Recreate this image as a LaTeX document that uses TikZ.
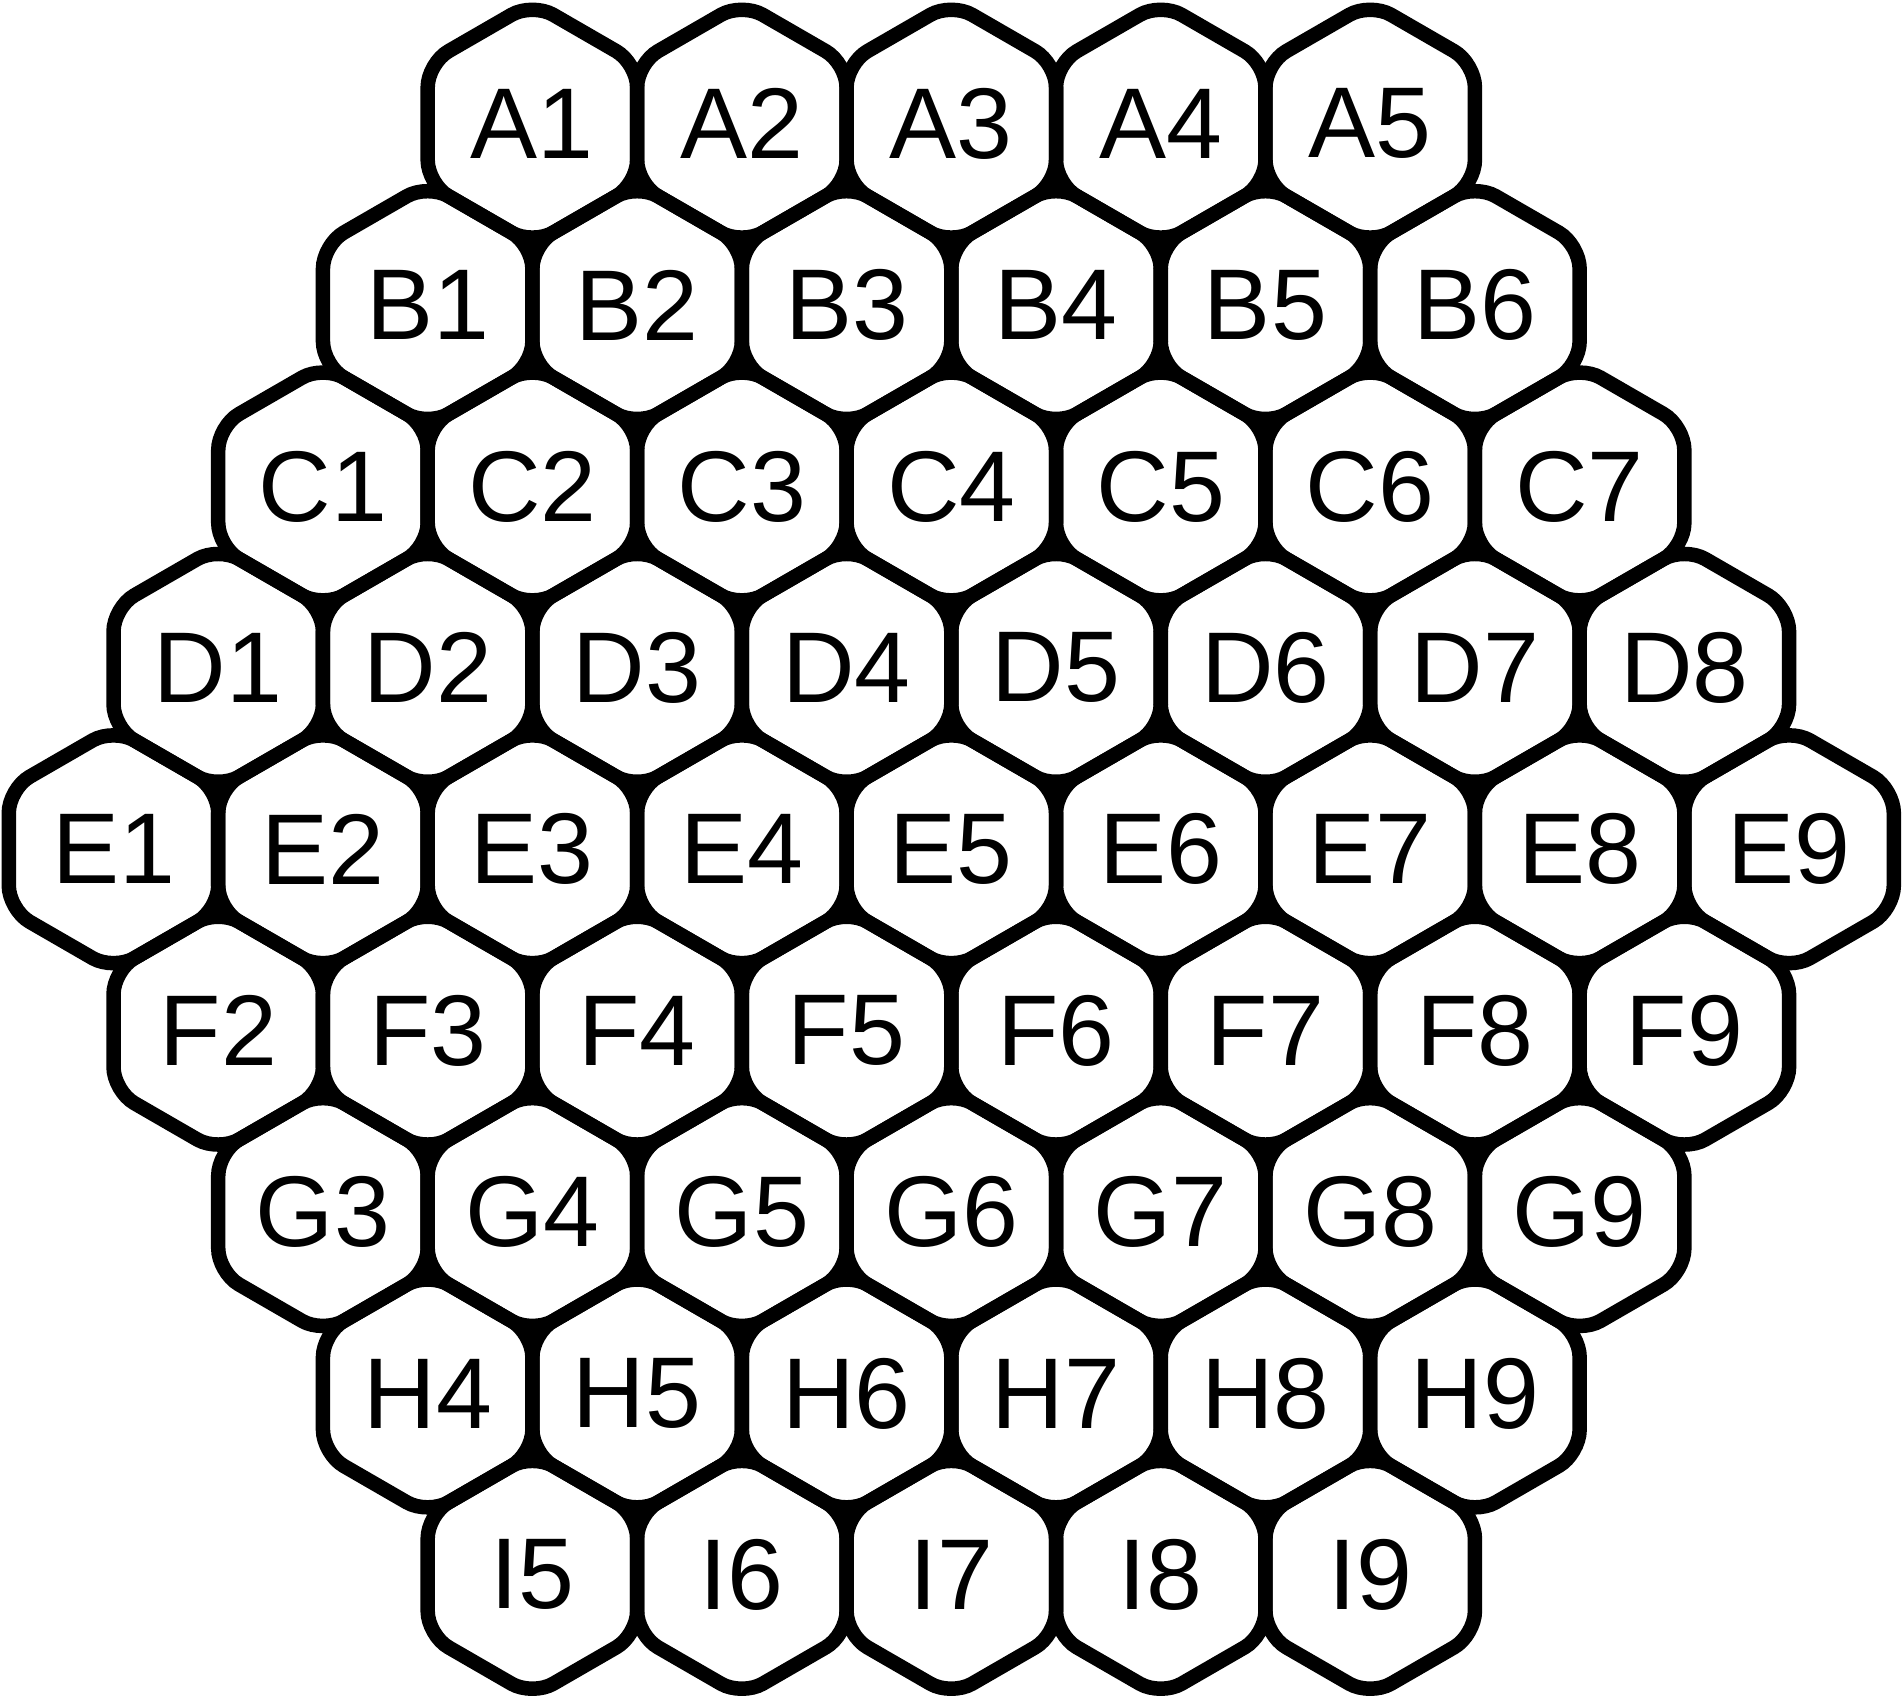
\documentclass[tikz,border=0pt]{standalone}
\usepackage{fontspec}
\setmainfont{Liberation Sans}
\usetikzlibrary{shapes.geometric}

\begin{document}
\begin{tikzpicture}[x=2.094cm, y=-1.8135cm]

\tikzset{cell/.style = {shape=regular polygon, regular polygon sides=6, shape border rotate=30, draw, line width=0.145cm, rounded corners=0.24cm, minimum size=2.418cm, inner sep=0pt, outer sep=0pt, font=\fontsize{28.6}{34}\selectfont}}
\useasboundingbox (-0.542,-0.682) rectangle (8.544,8.670);
% rows: letter/row/first/last/offset
\foreach \r/\k/\first/\last/\off in {A/0/1/5/2, B/1/1/6/1.5, C/2/1/7/1, D/3/1/8/0.5, E/4/1/9/0, F/5/2/9/0.5, G/6/3/9/1, H/7/4/9/1.5, I/8/5/9/2}
  \foreach \c in {\first,...,\last}
    \node[cell] (\r\c) at ({\off+\c-\first},\k) {\r\c};
\end{tikzpicture}
\end{document}
